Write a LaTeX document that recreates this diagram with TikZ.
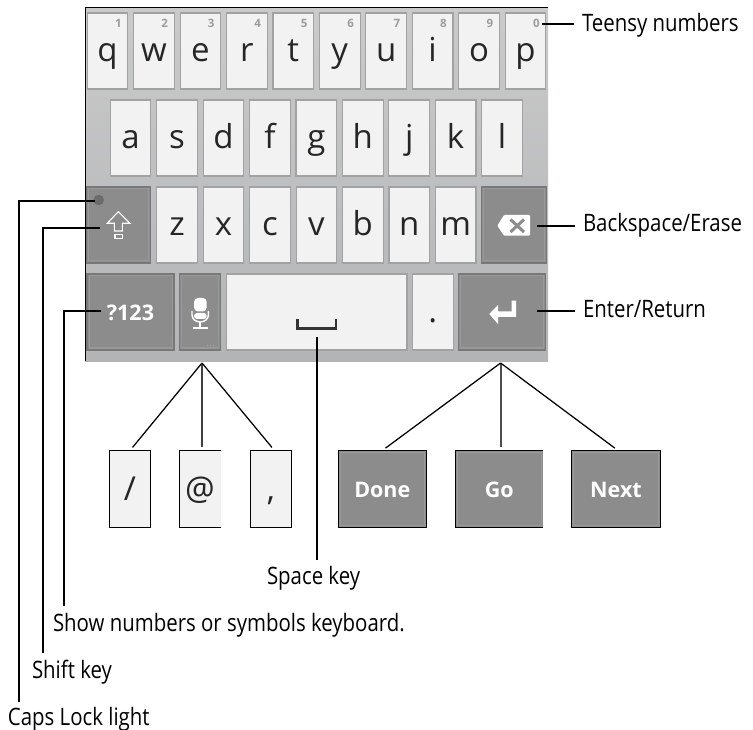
\documentclass[tikz,border=0pt]{standalone}
\usepackage{fontspec}
\setmainfont{Open Sans}
\newfontfamily\calloutfont[FakeStretch=0.85]{Open Sans}
\usetikzlibrary{positioning,shadows,calc}
\definecolor{panelgray}{HTML}{CACACA}
\definecolor{panellow}{HTML}{B2B4B6}
\definecolor{keywhite}{HTML}{F2F2F2}
\definecolor{keyedge}{HTML}{A2A2A2}
\definecolor{keydark}{HTML}{8C8C8C}
\definecolor{ringdark}{HTML}{787878}
\definecolor{ringlight}{HTML}{999999}
\definecolor{digitgray}{HTML}{9C9C9C}
\tikzset{
  keybase/.style={rectangle, inner sep=0pt, outer sep=0pt, minimum height=76pt},
  innerring/.style={path picture={
    \draw[ringlight, line width=1pt] ([shift={(2pt,2pt)}]path picture bounding box.south west)
      rectangle ([shift={(-2pt,-2pt)}]path picture bounding box.north east);}},
  lightkey/.style={keybase, draw=keyedge, line width=1.1pt, fill=keywhite, minimum width=40.6pt,
    font=\fontsize{33}{33}\selectfont, text=black!85, text height=22pt, text depth=0pt,
    drop shadow={shadow xshift=0pt, shadow yshift=-1.2pt, opacity=.45, fill=black}},
  darkkey/.style={keybase, innerring, draw=ringdark, line width=1.1pt, fill=keydark,
    font=\fontsize{21.5}{22}\bfseries\selectfont, text=white, text height=16pt, text depth=0pt,
    drop shadow={shadow xshift=0pt, shadow yshift=-1.2pt, opacity=.35, fill=black}},
  altlight/.style={keybase, draw=black, line width=1pt, fill=keywhite, minimum width=41.5pt, minimum height=77pt,
    font=\fontsize{33}{33}\selectfont, text=black!85, text height=22pt, text depth=0pt},
  altdark/.style={keybase, innerring, draw=black, line width=1pt, fill=keydark, minimum width=88.5pt, minimum height=77pt,
    font=\fontsize{21.5}{22}\bfseries\selectfont, text=white, text height=16pt, text depth=0pt},
  digit/.style={inner sep=0pt, text=digitgray, font=\fontsize{11.5}{12}\bfseries\selectfont},
  callout/.style={anchor=base west, inner sep=0pt, outer xsep=8.5pt, font=\fontsize{24}{25}\calloutfont},
  leader/.style={draw=black, line width=1.25pt},
  icon/.style={draw=white, line width=1.1pt},
}

\begin{document}
\begin{tikzpicture}[x=1pt, y=-1pt]
  \useasboundingbox (0,0) rectangle (753,730);

  % keyboard panel
  \fill[top color=panelgray, bottom color=panellow] (85,8) rectangle (548,361);
  \draw[black, line width=1pt] (85,361) -- (85,8) -- (548,8);

  % top row
  \node[lightkey] (keyq) at (107.5,51) {q};
  \node[digit] (numq) at ([xshift=-9.5pt,yshift=-10.5pt]keyq.north east) {1};
  \foreach \name/\digit [remember=\name as \prev (initially q)] in {w/2,e/3,r/4,t/5,y/6,u/7,i/8,o/9,p/0} {
    \node[lightkey, right=5.85pt of key\prev] (key\name) {\name};
    \node[digit] (num\name) at ([xshift=-9.5pt,yshift=-10.5pt]key\name.north east) {\digit};
  }

  % middle row
  \node[lightkey] (keya) at (130.5,138) {a};
  \foreach \name [remember=\name as \prev (initially a)] in {s,d,f,g,h,j,k,l} {
    \node[lightkey, right=5.85pt of key\prev] (key\name) {\name};
  }

  % third row
  \node[lightkey] (keyz) at (177,225) {z};
  \foreach \name [remember=\name as \prev (initially z)] in {x,c,v,b,n,m} {
    \node[lightkey, right=5.85pt of key\prev] (key\name) {\name};
  }
  \node[darkkey, minimum width=64.5pt, left=5.85pt of keyz] (keyshift) {};
  \node[darkkey, minimum width=64.5pt, right=5.85pt of keym] (keyback) {};

  % bottom row
  \node[darkkey, minimum width=87pt] (keysym) at (130.5,312) {?123};
  \node[darkkey, minimum width=40.6pt, right=5.85pt of keysym] (keymic) {};
  \node[lightkey, minimum width=180.5pt, right=6pt of keymic] (keyspace) {};
  \node[lightkey, right=5.6pt of keyspace] (keydot) {.};
  \node[darkkey, minimum width=87pt, right=5.6pt of keydot] (keyenter) {};

  % key icons
  \node[circle, fill=black!58, minimum size=10.5pt, inner sep=0pt] (capsdot) at (98.7,200) {};
  \draw[icon] (118.3,211.7) -- (130,223.3) -- (122.3,223.3) -- (122.3,231) -- (114.3,231) -- (114.3,223.3) -- (107.3,223.3) -- cycle;
  \draw[icon] (115,234.3) rectangle (122.3,238.3);
  \fill[white, rounded corners=1pt] (497.3,225.7) -- (504,215) -- (530,215) -- (530,235.7) -- (504,235.7) -- cycle;
  \draw[keydark, line width=3pt] (510.5,219.5) -- (524,232) (510.5,232) -- (524,219.5);
  \fill[white] (489.3,314) -- (498,305) -- (498,311.5) -- (511.7,311.5) -- (511.7,300.7) -- (516,300.7) -- (516,317) -- (498,317) -- (498,324) -- cycle;
  \fill[white, rounded corners=4pt] (194,311.5) -- (194,298) -- (206.7,298) -- (206.7,311.5) -- cycle;
  \fill[white, rounded corners=3pt] (194,313) -- (206.7,313) -- (206.7,319) -- (194,319) -- cycle;
  \draw[white, line width=1.4pt] (192,311) -- (192,315) arc[start angle=180, end angle=0, x radius=8.2pt, y radius=-7pt] -- (208.4,311);
  \draw[white, line width=1.6pt] (200.2,322) -- (200.2,327) (193,328) -- (207.5,328);
  \draw[dotted, digitgray!90, line width=1pt] (207,346) -- (215,346);
  \draw[black!80, line width=2.7pt] (297.3,319.5) -- (297.3,328.3) -- (336,328.3) -- (336,319.5);

  % alternate keys
  \node[altlight] (keyslash) at (130,489) {/};
  \node[altlight, right=28.5pt of keyslash, draw=none] (keyat) {@};
  \node[altlight, right=29.5pt of keyat] (keycomma) {,};
  \draw[black, line width=1pt] (keyat.north east) -- (keyat.north west) -- (keyat.south west) -- (keyat.south east);
  \node[altdark] (keydone) at (382.3,489) {Done};
  \node[altdark, minimum width=87.5pt, draw=none] (keygo) at (499.3,489) {Go};
  \node[altdark] (keynext) at (616,489) {Next};
  \draw[black, line width=1pt] (keygo.north east) -- (keygo.north west) -- (keygo.south west) -- (keygo.south east);

  % callout labels
  \node[callout] (teensylabel) at (573.5,32) {Teensy numbers};
  \node[callout] (backlabel) at (574.5,232) {Backspace/Erase};
  \node[callout] (enterlabel) at (574.5,318) {Enter/Return};
  \node[callout, outer xsep=0pt] (spacelabel) at (267,584) {Space key};
  \node[callout, outer xsep=0pt] (symlabel) at (53,631) {Show numbers or symbols keyboard.};
  \node[callout, outer xsep=0pt] (shiftlabel) at (32,678) {Shift key};
  \node[callout, outer xsep=0pt] (capslabel) at (8,725) {Caps Lock light};

  % leader ends
  \coordinate (teensyend) at (542,24);
  \coordinate (backend) at (537,226);
  \coordinate (enterend) at (537,311);
  \coordinate (spacetop) at (317,337);
  \coordinate (spacefoot) at (317,560);
  \coordinate (capsstart) at (95,201);
  \coordinate (capsfoot) at (19,702);
  \coordinate (shiftstart) at (100,228);
  \coordinate (shiftfoot) at (43,653);
  \coordinate (symstart) at (101,311);
  \coordinate (symfoot) at (64,606);
  \coordinate (altapex) at (202,363);
  \coordinate (actionapex) at (500.6,363);

  \draw[leader] (teensyend) -- (teensyend -| teensylabel.west);
  \draw[leader] (backend) -- (backend -| backlabel.west);
  \draw[leader] (enterend) -- (enterend -| enterlabel.west);
  \draw[leader] (spacetop) -- (spacefoot);
  \draw[leader] (capsstart) -| (capsfoot);
  \draw[leader] (shiftstart) -| (shiftfoot);
  \draw[leader] (symstart) -| (symfoot);

  \draw[leader, shorten >=4pt] (altapex) -- (keyslash.north);
  \draw[leader, draw=black!75, shorten >=4pt] (altapex) -- (altapex |- keyat.north);
  \draw[leader, shorten >=4pt] (altapex) -- ([xshift=3.5pt]keycomma.north);
  \draw[leader, shorten >=4pt] (actionapex) -- (keydone.north);
  \draw[draw=black!70, line width=2pt, shorten >=4pt] (actionapex) -- (actionapex |- keygo.north);
  \draw[leader, shorten >=4pt] (actionapex) -- ([xshift=2pt]keynext.north);
\end{tikzpicture}
\end{document}
